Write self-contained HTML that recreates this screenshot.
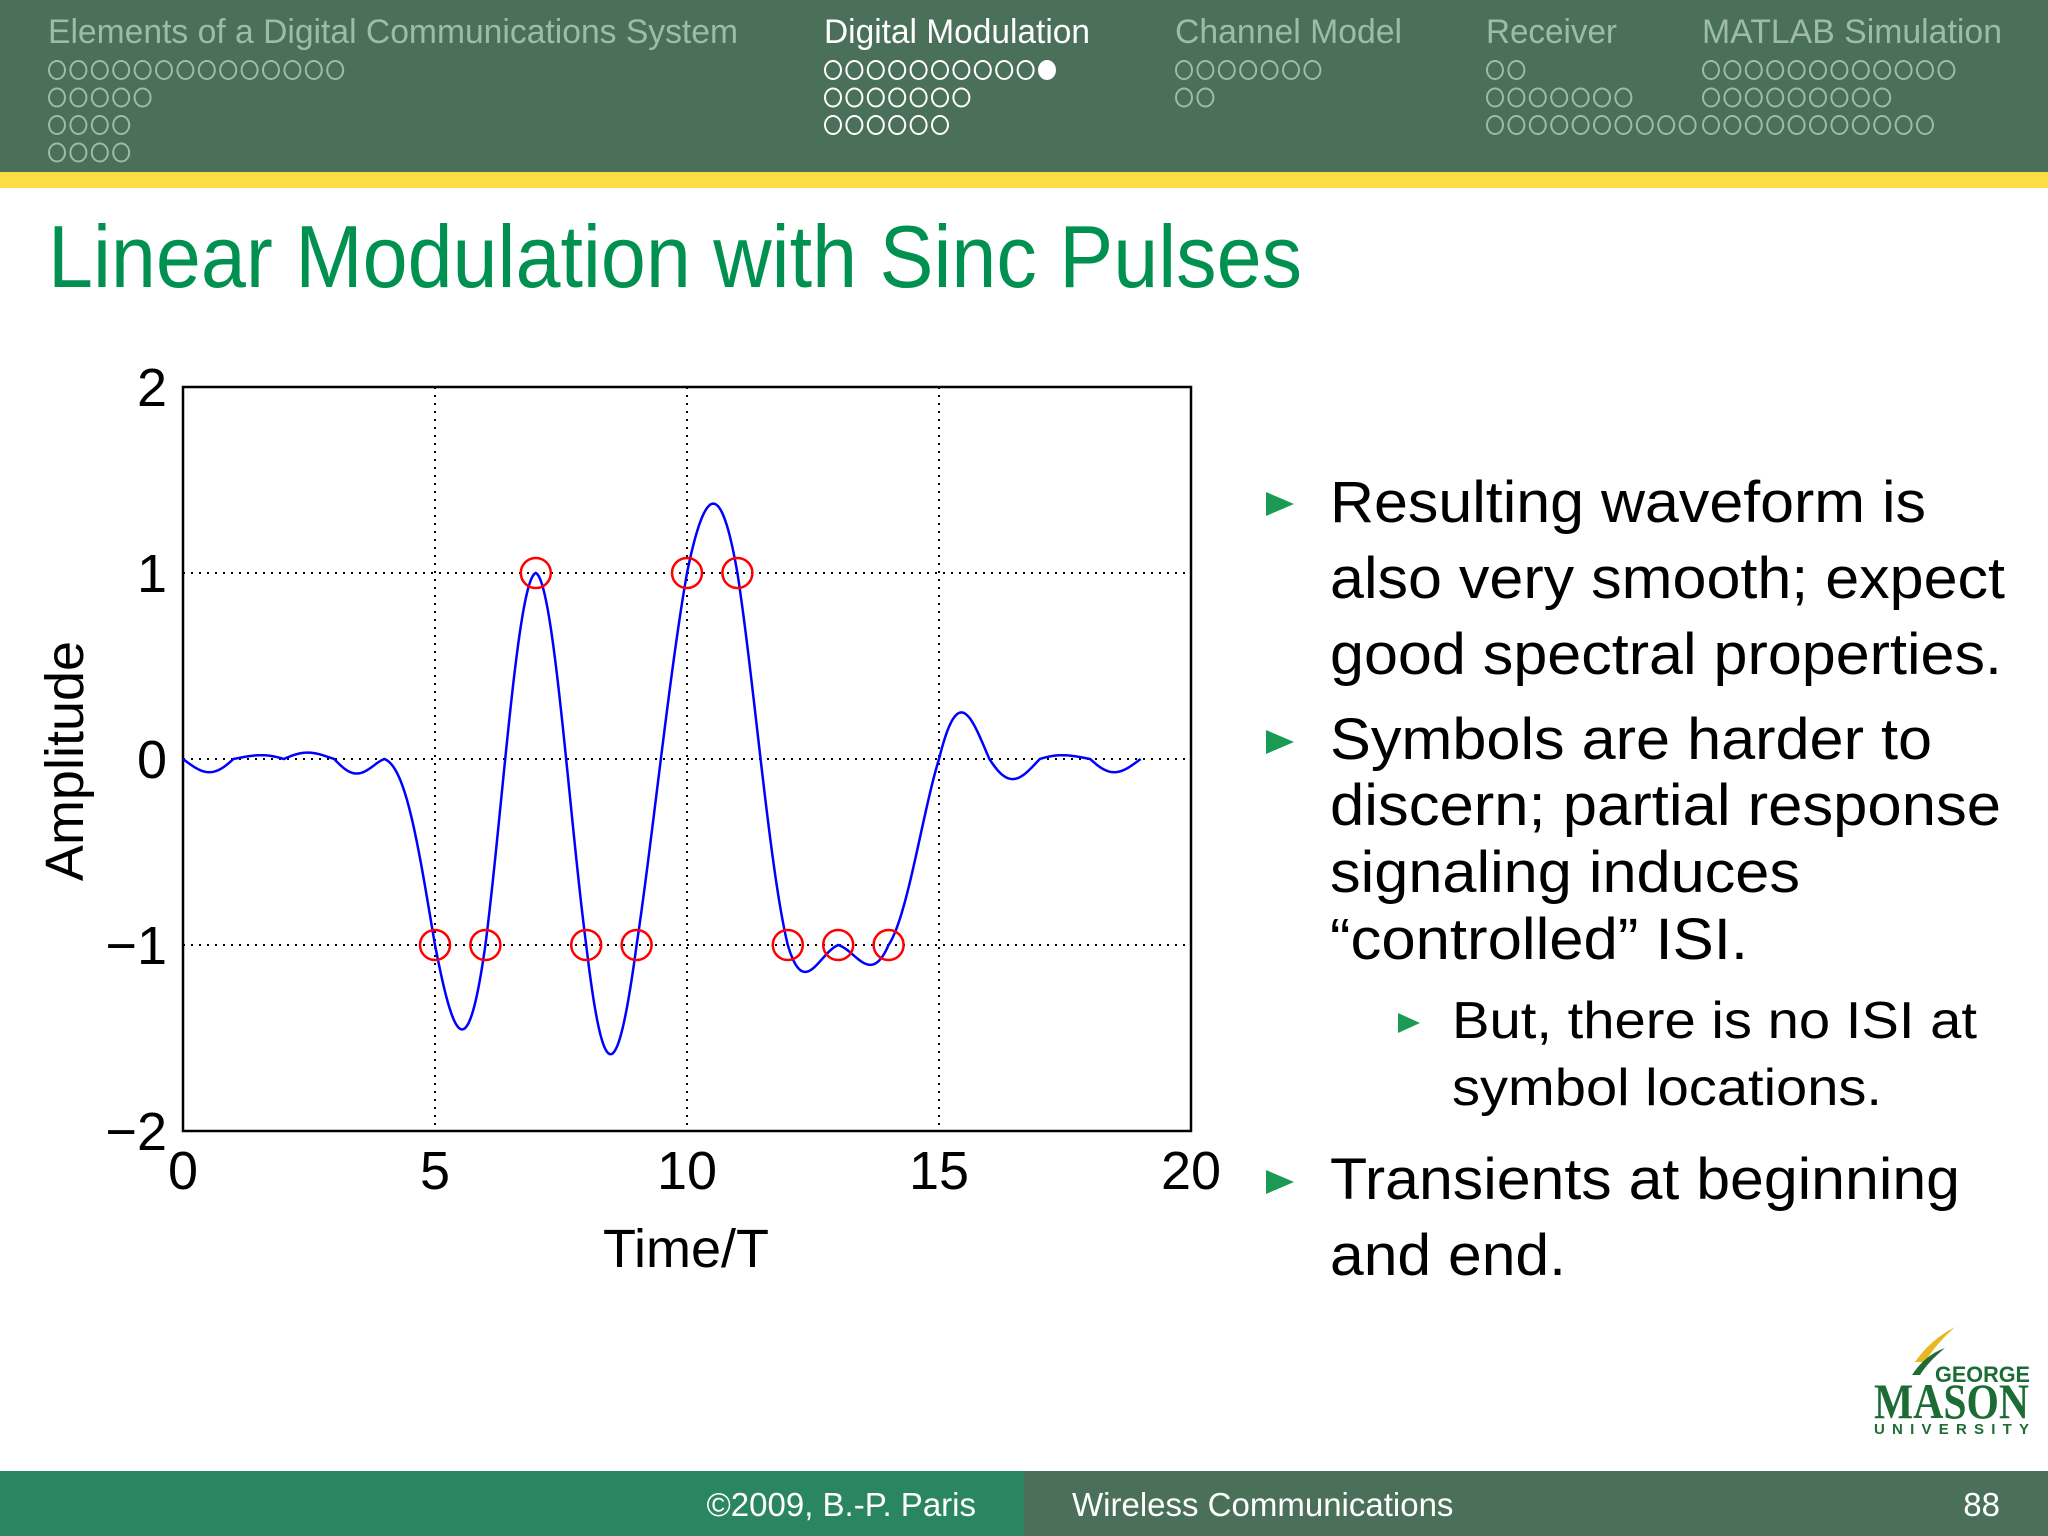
<!DOCTYPE html>
<html><head><meta charset="utf-8"><style>
html,body{margin:0;padding:0;background:#fff}
svg{display:block;font-family:"Liberation Sans",sans-serif}
</style></head><body>
<svg id="s" width="2048" height="1536" viewBox="0 0 2048 1536">
<rect x="0" y="0" width="2048" height="172" fill="#4a7059"/>
<rect x="0" y="172" width="2048" height="16" fill="#fddc44"/>
<g font-size="34">
<text x="48" y="43" fill="#9dbba7" textLength="690" lengthAdjust="spacingAndGlyphs">Elements of a Digital Communications System</text>
<text x="824" y="43" fill="#fff" textLength="266" lengthAdjust="spacingAndGlyphs">Digital Modulation</text>
<text x="1175" y="43" fill="#9dbba7" textLength="227" lengthAdjust="spacingAndGlyphs">Channel Model</text>
<text x="1486" y="43" fill="#9dbba7" textLength="131" lengthAdjust="spacingAndGlyphs">Receiver</text>
<text x="1702" y="43" fill="#9dbba7" textLength="300" lengthAdjust="spacingAndGlyphs">MATLAB Simulation</text>
</g>
<g id="dots"></g>
<text x="48" y="287" font-size="88" fill="#009150" textLength="1254" lengthAdjust="spacingAndGlyphs">Linear Modulation with Sinc Pulses</text>

<g id="chart"></g>

<g font-size="58" fill="#000">
<polygon points="1266,492 1294,504 1266,516" fill="#1a9a52"/>
<text x="1330" y="522" textLength="596" lengthAdjust="spacingAndGlyphs">Resulting waveform is</text>
<text x="1330" y="598" textLength="675" lengthAdjust="spacingAndGlyphs">also very smooth; expect</text>
<text x="1330" y="674" textLength="672" lengthAdjust="spacingAndGlyphs">good spectral properties.</text>
<polygon points="1266,730 1294,742 1266,754" fill="#1a9a52"/>
<text x="1330" y="759" textLength="602" lengthAdjust="spacingAndGlyphs">Symbols are harder to</text>
<text x="1330" y="825" textLength="671" lengthAdjust="spacingAndGlyphs">discern; partial response</text>
<text x="1330" y="892" textLength="470" lengthAdjust="spacingAndGlyphs">signaling induces</text>
<text x="1330" y="959" textLength="418" lengthAdjust="spacingAndGlyphs">“controlled” ISI.</text>
<polygon points="1398,1013 1420,1023 1398,1033" fill="#1a9a52"/>
<text x="1452" y="1038" font-size="52" textLength="525" lengthAdjust="spacingAndGlyphs">But, there is no ISI at</text>
<text x="1452" y="1105" font-size="52" textLength="430" lengthAdjust="spacingAndGlyphs">symbol locations.</text>
<polygon points="1266,1170 1294,1182 1266,1194" fill="#1a9a52"/>
<text x="1330" y="1199" textLength="630" lengthAdjust="spacingAndGlyphs">Transients at beginning</text>
<text x="1330" y="1275" textLength="236" lengthAdjust="spacingAndGlyphs">and end.</text>
</g>

<g>
<path d="M1915,1362 Q1930,1340 1955,1327 Q1935,1345 1925,1362 Z" fill="#e8b820"/>
<path d="M1912,1375 Q1925,1355 1945,1348 Q1928,1362 1920,1375 Z" fill="#1d6b35"/>
<text x="1935" y="1382" font-size="22" font-weight="bold" fill="#1d6b35" textLength="95" lengthAdjust="spacingAndGlyphs">GEORGE</text>
<text x="1874" y="1418" font-size="50" font-weight="bold" font-family="Liberation Serif,serif" fill="#1d6b35" textLength="155" lengthAdjust="spacingAndGlyphs">MASON</text>
<text x="1874" y="1434" font-size="15" font-weight="bold" fill="#1d6b35" textLength="155">UNIVERSITY</text>
</g>

<rect x="0" y="1471" width="1024" height="65" fill="#2a8660"/>
<rect x="1024" y="1471" width="1024" height="65" fill="#4a7059"/>
<text x="976" y="1516" font-size="33" fill="#fff" text-anchor="end">©2009, B.-P. Paris</text>
<text x="1072" y="1516" font-size="33" fill="#fff">Wireless Communications</text>
<text x="2000" y="1516" font-size="33" fill="#fff" text-anchor="end">88</text>
</svg>
<script>
const symbolTimes = [5,6,7,8,9,10,11,12,13,14];
const symbolValues = [-1,-1,1,-1,-1,1,1,-1,-1,-1];
const xTicks = [0,5,10,15,20];
const yTicks = [-2,-1,0,1,2];
const yTickLabels = ["\u22122","\u22121","0","1","2"];
const pulseHalfWidth = 5;

const NS="http://www.w3.org/2000/svg";
function mk(tag,attrs,parent){const e=document.createElementNS(NS,tag);for(const k in attrs)e.setAttribute(k,attrs[k]);parent.appendChild(e);return e;}
const L=183,R=1191,T=387,B=1131;
const xs=v=>L+(v-0)/(20-0)*(R-L);
const ys=v=>B-(v+2)/4*(B-T);
const g=document.getElementById('chart');

// nav dots
const dots=document.getElementById('dots');
const rows=[[48,[14,5,4,4]],[824,[11,7,6]],[1175,[7,2]],[1486,[2,7,10]],[1702,[12,9,11]]];
rows.forEach((r,ci)=>{r[1].forEach((n,ri)=>{for(let i=0;i<n;i++){
 const filled=(ci===1&&ri===0&&i===n-1);
 const c=mk('ellipse',{cx:r[0]+9+i*21.4,cy:70+ri*27.5,rx:8,ry:9,fill:filled?'#fff':'none',stroke:(ci===1)?'#fff':'#9dbba7','stroke-width':2},dots);
 
 
}});});

// grid
[5,10,15].forEach(v=>{const l=mk('line',{x1:xs(v),x2:xs(v),y1:T,y2:B,stroke:'#000','stroke-width':2,'stroke-dasharray':'2 6'},g);

});
[-1,0,1].forEach(v=>{const l=mk('line',{x1:L,x2:R,y1:ys(v),y2:ys(v),stroke:'#000','stroke-width':2,'stroke-dasharray':'2 6'},g);

});
const frame=mk('rect',{x:L,y:T,width:R-L,height:B-T,fill:'none',stroke:'#000','stroke-width':2.5},g);



xTicks.forEach(v=>{const t=mk('text',{x:xs(v),y:1189,'font-size':54,'text-anchor':'middle'},g);t.textContent=v;

});
yTicks.forEach((v,i)=>{const t=mk('text',{x:167,y:ys(v)+19,'font-size':54,'text-anchor':'end'},g);t.textContent=yTickLabels[i];

});
const xt=mk('text',{x:686,y:1267,'font-size':54,'text-anchor':'middle'},g);xt.textContent='Time/T';


const yt=mk('text',{x:0,y:0,'font-size':54,'text-anchor':'middle',transform:'translate(83,761) rotate(-90)'},g);yt.textContent='Amplitude';



// waveform: sum of truncated sinc pulses from symbol arrays
const sinc=x=>x===0?1:Math.sin(Math.PI*x)/(Math.PI*x);
const t0=symbolTimes[0]-pulseHalfWidth,t1=symbolTimes[symbolTimes.length-1]+pulseHalfWidth;
let d='';
for(let t=t0;t<=t1+1e-9;t+=0.02){let s=0;symbolTimes.forEach((k,i)=>{if(Math.abs(t-k)<=pulseHalfWidth)s+=symbolValues[i]*sinc(t-k);});
d+=(d?'L':'M')+xs(t).toFixed(2)+','+ys(s).toFixed(2);}
const line=mk('path',{d:d,fill:'none',stroke:'#0000ff','stroke-width':2.5},g);


symbolTimes.forEach((k,i)=>{const c=mk('circle',{cx:xs(k),cy:ys(symbolValues[i]),r:15,fill:'none',stroke:'#ff0000','stroke-width':2.5},g);

});
</script>
</body></html>
